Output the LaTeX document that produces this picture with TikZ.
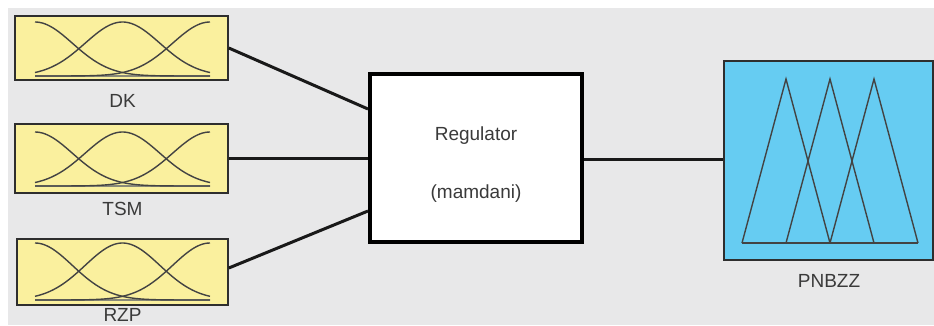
\documentclass[tikz,border=0pt]{standalone}
\usepackage{fontspec}
\setmainfont{Liberation Sans}
\definecolor{bggray}{HTML}{E8E8E9}
\definecolor{mfyellow}{HTML}{FAF09E}
\definecolor{mfblue}{HTML}{66CCF2}
\definecolor{boxborder}{HTML}{2E2E2E}
\definecolor{txtgray}{HTML}{3A3A3A}
\definecolor{basegray}{HTML}{8A8A7A}
\tikzset{
  mfbox/.style={draw=boxborder, line width=1.6pt, fill=mfyellow, minimum width=213pt, inner sep=0pt},
  outbox/.style={draw=boxborder, line width=1.6pt, fill=mfblue, minimum width=209pt, minimum height=199pt, inner sep=0pt},
  regbox/.style={draw=black, line width=4pt, fill=white, minimum width=212pt, minimum height=168pt, inner sep=0pt},
  lbl/.style={font=\fontsize{19}{22}\selectfont, text=txtgray, inner sep=0pt, anchor=base},
  conn/.style={draw=black!90, line width=3pt},
  mfcurve/.style={draw=boxborder!90, line width=1.4pt},
  mfbase/.style={draw=basegray, line width=1.8pt},
}
\begin{document}
\begin{tikzpicture}[x=1pt,y=-1pt]
\useasboundingbox (0,0) rectangle (934,325);
\fill[white] (0,0) rectangle (934,325);
\fill[bggray] (8,8) rectangle (934,325);

% input boxes
\node[mfbox, minimum height=64pt] (dk) at (121.5,48) {};
\node[mfbox, minimum height=69pt] (tsm) at (121.5,158.5) {};
\node[mfbox, minimum height=66pt, minimum width=211pt] (rzp) at (122.5,272) {};

% gaussian membership functions
\foreach \pk/\bs in {22/76, 132/186, 243/300}{
  \draw[mfbase] (35,\bs) -- (210,\bs);
  \foreach \c in {35,122.5,210}{
    \draw[mfcurve] plot[domain=35:210, samples=70, smooth]
      (\x, {\bs - (\bs-\pk)*exp(-((\x-\c)/37.4)^2/2)});
  }
}

\node[lbl] (dkl) at (122.5,107) {DK};
\node[lbl] (tsml) at (122.5,215) {TSM};
\node[lbl] (rzpl) at (122.5,321.5) {RZP};

% regulator
\node[regbox] (reg) at (476,158) {};
\node[lbl] (regt1) at (476,140) {Regulator};
\node[lbl] (regt2) at (476,198) {(mamdani)};

% output box
\node[outbox] (out) at (828.5,160.5) {};
\foreach \a in {742,786,830}{
  \draw[mfcurve] (\a,243) -- ({\a+44},79) -- ({\a+88},243);
}
\draw[mfcurve] (742,243) -- (918,243);
\node[lbl] (outl) at (829,287) {PNBZZ};

% connectors
\draw[conn] (dk.east) -- ([yshift=49pt]reg.west);
\draw[conn] (tsm.east) -- (tsm.east -| reg.west);
\draw[conn] ([yshift=4pt]rzp.east) -- ([yshift=-53pt]reg.west);
\draw[conn] ([yshift=-1pt]reg.east) -- ([yshift=-1pt]reg.east -| out.west);
\end{tikzpicture}
\end{document}
